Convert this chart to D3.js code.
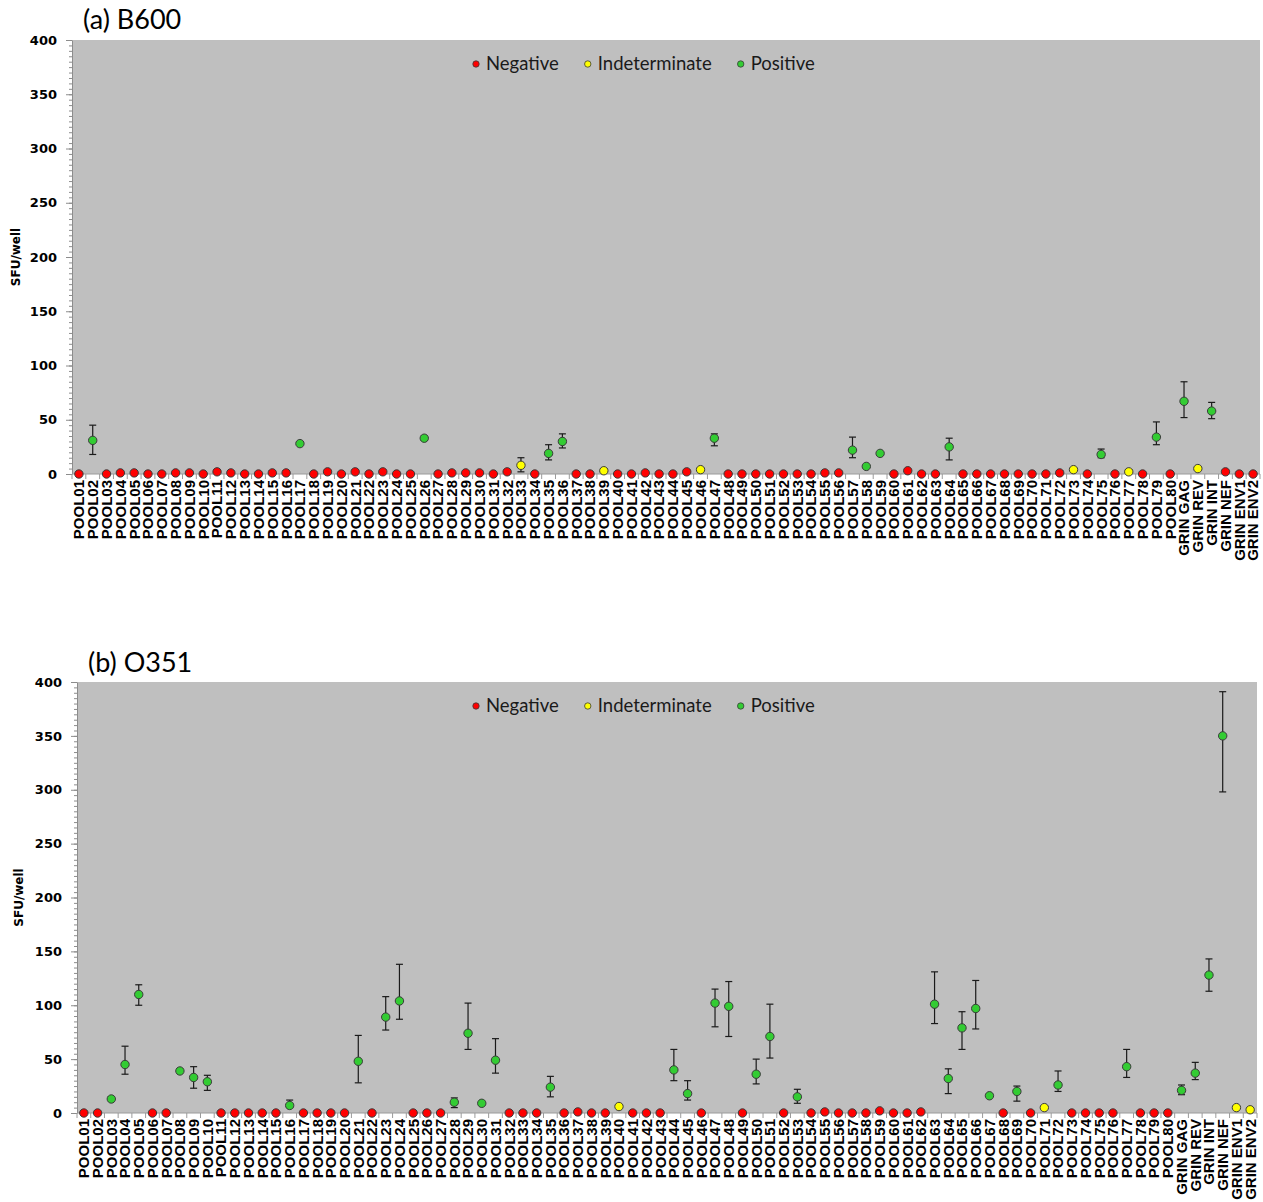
<!DOCTYPE html>
<html>
<head>
<meta charset="utf-8">
<script src="https://cdn.jsdelivr.net/npm/d3@7/dist/d3.min.js"></script>
<style>
  body { margin: 0; background: #fff; }
</style>
</head>
<body>
<script>
// categories (86)
const categories = [
  "POOL01","POOL02","POOL03","POOL04","POOL05","POOL06","POOL07","POOL08","POOL09","POOL10",
  "POOL11","POOL12","POOL13","POOL14","POOL15","POOL16","POOL17","POOL18","POOL19","POOL20",
  "POOL21","POOL22","POOL23","POOL24","POOL25","POOL26","POOL27","POOL28","POOL29","POOL30",
  "POOL31","POOL32","POOL33","POOL34","POOL35","POOL36","POOL37","POOL38","POOL39","POOL40",
  "POOL41","POOL42","POOL43","POOL44","POOL45","POOL46","POOL47","POOL48","POOL49","POOL50",
  "POOL51","POOL52","POOL53","POOL54","POOL55","POOL56","POOL57","POOL58","POOL59","POOL60",
  "POOL61","POOL62","POOL63","POOL64","POOL65","POOL66","POOL67","POOL68","POOL69","POOL70",
  "POOL71","POOL72","POOL73","POOL74","POOL75","POOL76","POOL77","POOL78","POOL79","POOL80",
  "GRIN GAG","GRIN REV","GRIN INT","GRIN NEF","GRIN ENV1","GRIN ENV2"
];
const yTicks = [0, 50, 100, 150, 200, 250, 300, 350, 400];
const legendLabels = ["Negative", "Indeterminate", "Positive"];
const classColors = { N: "#FF0000", I: "#FFFF00", P: "#33CC33" };

// (a) B600
const b600Mean = [
  0,31,0,1,1,0,0,1,1,0,
  2,1,0,0,1,1,28,0,2,0,
  2,0,2,0,0,33,0,1,1,1,
  0,2,8,0,19,30,0,0,3,0,
  0,1,0,0,2,4,33,0,0,0,
  0,0,0,0,1,1,22,7,19,0,
  3,0,0,25,0,0,0,0,0,0,
  0,1,4,0,18,0,2,0,34,0,
  67,5,58,2,0,0
];
const b600Up = [
  0,14,0,0,0,0,0,0,0,0,
  0,0,0,0,2,2,0,0,0,0,
  0,0,0,0,0,2,0,0,0,0,
  0,0,7,0,8,7,0,0,2,0,
  0,0,0,0,0,0,4,0,0,0,
  0,0,0,0,0,0,12,0,0,0,
  0,0,0,8,0,0,0,0,0,0,
  0,2,0,0,5,0,2,0,14,0,
  18,0,8,0,0,0
];
const b600Down = [
  0,13,0,0,0,0,0,0,0,0,
  0,0,0,0,0,0,0,0,0,0,
  0,0,0,0,0,2,0,0,0,0,
  0,0,6,0,6,6,0,0,1,0,
  0,0,0,0,0,0,7,0,0,0,
  0,0,0,0,0,0,7,0,0,0,
  0,0,0,12,0,0,0,0,0,0,
  0,0,0,0,3,0,0,0,7,0,
  15,0,7,0,0,0
];
const b600Class = [
  "N","P","N","N","N","N","N","N","N","N",
  "N","N","N","N","N","N","P","N","N","N",
  "N","N","N","N","N","P","N","N","N","N",
  "N","N","I","N","P","P","N","N","I","N",
  "N","N","N","N","N","I","P","N","N","N",
  "N","N","N","N","N","N","P","P","P","N",
  "N","N","N","P","N","N","N","N","N","N",
  "N","N","I","N","P","N","I","N","P","N",
  "P","I","P","N","N","N"
];

// (b) O351
const o351Mean = [
  0,0,13,45,110,0,0,39,33,29,
  0,0,0,0,0,7,0,0,0,0,
  48,0,89,104,0,0,0,10,74,9,
  49,0,0,0,24,0,1,0,0,6,
  0,0,0,40,18,0,102,99,0,36,
  71,0,15,0,1,0,0,0,2,0,
  0,1,101,32,79,97,16,0,20,0,
  5,26,0,0,0,0,43,0,0,0,
  21,37,128,350,5,3
];
const o351Up = [
  0,0,2,17,9,0,0,0,10,6,
  0,0,0,0,0,5,0,0,0,0,
  24,0,19,34,0,0,0,4,28,0,
  20,0,0,0,10,0,0,0,0,0,
  0,0,0,19,12,0,13,23,0,14,
  30,0,7,0,0,0,0,0,0,0,
  0,0,30,9,15,26,0,0,5,0,
  1,13,0,0,0,0,16,0,0,0,
  5,10,15,41,0,0
];
const o351Down = [
  0,0,0,9,10,0,0,0,10,8,
  0,0,0,0,0,2,0,0,0,0,
  20,0,12,17,0,0,0,5,15,0,
  12,0,0,0,9,0,0,0,0,0,
  0,0,0,10,6,0,22,28,0,9,
  20,0,6,0,0,0,0,0,0,0,
  0,0,18,14,20,19,0,0,9,0,
  0,6,0,0,0,0,10,0,0,0,
  4,6,15,52,0,0
];
const o351Class = [
  "N","N","P","P","P","N","N","P","P","P",
  "N","N","N","N","N","P","N","N","N","N",
  "P","N","P","P","N","N","N","P","P","P",
  "P","N","N","N","P","N","N","N","N","I",
  "N","N","N","P","P","N","P","P","N","P",
  "P","N","P","N","N","N","N","N","N","N",
  "N","N","P","P","P","P","P","N","P","N",
  "I","P","N","N","N","N","P","N","N","N",
  "P","P","P","P","I","I"
];

const W = 1263, H = 1202;
const svg = d3.select("body").append("svg")
  .attr("width", W)
  .attr("height", H)
  .style("display", "block");

function drawPanel(cfg) {
  const g = svg.append("g");

  const x = d3.scaleBand()
    .domain(categories)
    .range([cfg.left, cfg.right])
    .padding(0);
  const y = d3.scaleLinear()
    .domain([0, 400])
    .range([cfg.bottom, cfg.top]);

  // plot area
  g.append("rect")
    .attr("x", cfg.left)
    .attr("y", cfg.top)
    .attr("width", cfg.right - cfg.left)
    .attr("height", cfg.bottom - cfg.top)
    .attr("fill", "#BFBFBF");

  // minor y ticks
  const minor = g.append("g")
    .attr("transform", "translate(" + cfg.left + ",0)")
    .call(d3.axisLeft(y).tickValues(d3.range(0, 401, 5)).tickSize(3).tickFormat(""));
  minor.select(".domain").remove();
  minor.selectAll("line").attr("stroke", "#8c8c8c");

  // major y ticks
  const yAxis = g.append("g")
    .attr("transform", "translate(" + cfg.left + ",0)")
    .call(d3.axisLeft(y).tickValues(yTicks).tickSize(6).tickPadding(9).tickSizeOuter(0));
  yAxis.select(".domain").attr("stroke", "#8c8c8c");
  yAxis.selectAll("line").attr("stroke", "#8c8c8c");
  yAxis.selectAll("text")
    .attr("font-family", "DejaVu Sans")
    .attr("font-weight", "bold")
    .attr("font-size", "13px")
    .attr("fill", "#000");

  // x axis: ticks at band boundaries
  g.append("line")
    .attr("x1", cfg.left).attr("x2", cfg.right)
    .attr("y1", cfg.bottom).attr("y2", cfg.bottom)
    .attr("stroke", "#9a9a9a");
  g.selectAll(".xtick")
    .data(categories.concat(["__end"]))
    .enter().append("line")
    .attr("x1", (d, i) => i < categories.length ? x(d) : cfg.right)
    .attr("x2", (d, i) => i < categories.length ? x(d) : cfg.right)
    .attr("y1", cfg.bottom)
    .attr("y2", cfg.bottom + 5)
    .attr("stroke", "#9a9a9a");

  g.selectAll(".xlabel")
    .data(categories)
    .enter().append("text")
    .attr("transform", d => "translate(" + (x(d) + x.bandwidth() / 2) + "," + cfg.bottom + ") rotate(-90)")
    .attr("x", -6)
    .attr("dy", "0.36em")
    .attr("text-anchor", "end")
    .attr("font-family", "Liberation Sans")
    .attr("font-weight", "bold")
    .attr("font-size", "15px")
    .attr("fill", "#000")
    .text(d => d);

  // y axis title
  g.append("text")
    .attr("transform", "translate(" + cfg.yTitleX + "," + ((cfg.top + cfg.bottom) / 2) + ") rotate(-90)")
    .attr("text-anchor", "middle")
    .attr("font-family", "DejaVu Sans")
    .attr("font-weight", "bold")
    .attr("font-size", "12px")
    .attr("fill", "#000")
    .text("SFU/well");

  // panel title
  g.append("text")
    .attr("x", cfg.titleX)
    .attr("y", cfg.titleY)
    .attr("font-family", "Lato")
    .attr("font-size", "27px")
    .attr("fill", "#000")
    .text(cfg.title);

  // error bars
  const rows = categories.map((c, i) => ({
    cat: c, mean: cfg.mean[i], up: cfg.up[i], down: cfg.down[i], cls: cfg.cls[i]
  }));
  const eb = rows.filter(d => d.up > 0 || d.down > 0);
  const cx = d => x(d.cat) + x.bandwidth() / 2;
  const ebG = g.append("g").attr("stroke", "#1a1a1a").attr("stroke-width", 1.2);
  ebG.selectAll(".stem").data(eb).enter().append("line")
    .attr("x1", cx).attr("x2", cx)
    .attr("y1", d => y(d.mean + d.up))
    .attr("y2", d => y(d.mean - d.down));
  ebG.selectAll(".capT").data(eb.filter(d => d.up > 0)).enter().append("line")
    .attr("x1", d => cx(d) - 3.5).attr("x2", d => cx(d) + 3.5)
    .attr("y1", d => y(d.mean + d.up)).attr("y2", d => y(d.mean + d.up));
  ebG.selectAll(".capB").data(eb.filter(d => d.down > 0)).enter().append("line")
    .attr("x1", d => cx(d) - 3.5).attr("x2", d => cx(d) + 3.5)
    .attr("y1", d => y(d.mean - d.down)).attr("y2", d => y(d.mean - d.down));

  // points
  g.selectAll(".pt").data(rows).enter().append("circle")
    .attr("cx", cx)
    .attr("cy", d => y(d.mean))
    .attr("r", 4.2)
    .attr("fill", d => classColors[d.cls])
    .attr("stroke", "#3a3a3a")
    .attr("stroke-width", 1);

  // legend
  let lx = cfg.legendX;
  legendLabels.forEach((lab, i) => {
    const key = ["N", "I", "P"][i];
    g.append("circle")
      .attr("cx", lx)
      .attr("cy", cfg.legendY)
      .attr("r", 3.2)
      .attr("fill", classColors[key])
      .attr("stroke", "#3a3a3a")
      .attr("stroke-width", 0.8);
    const t = g.append("text")
      .attr("x", lx + 10)
      .attr("y", cfg.legendY)
      .attr("dy", "0.35em")
      .attr("font-family", "Lato")
      .attr("font-size", "18.5px")
      .attr("fill", "#1a1a1a")
      .text(lab);
    lx = lx + 10 + t.node().getComputedTextLength() + 29;
  });
}

drawPanel({
  title: "(a) B600", titleX: 83, titleY: 29,
  left: 72, right: 1260, top: 40, bottom: 474,
  yTitleX: 20, legendX: 476, legendY: 64,
  mean: b600Mean, up: b600Up, down: b600Down, cls: b600Class
});

drawPanel({
  title: "(b) O351", titleX: 88, titleY: 672,
  left: 77, right: 1257, top: 682, bottom: 1113,
  yTitleX: 23, legendX: 476, legendY: 706,
  mean: o351Mean, up: o351Up, down: o351Down, cls: o351Class
});
</script>
</body>
</html>
